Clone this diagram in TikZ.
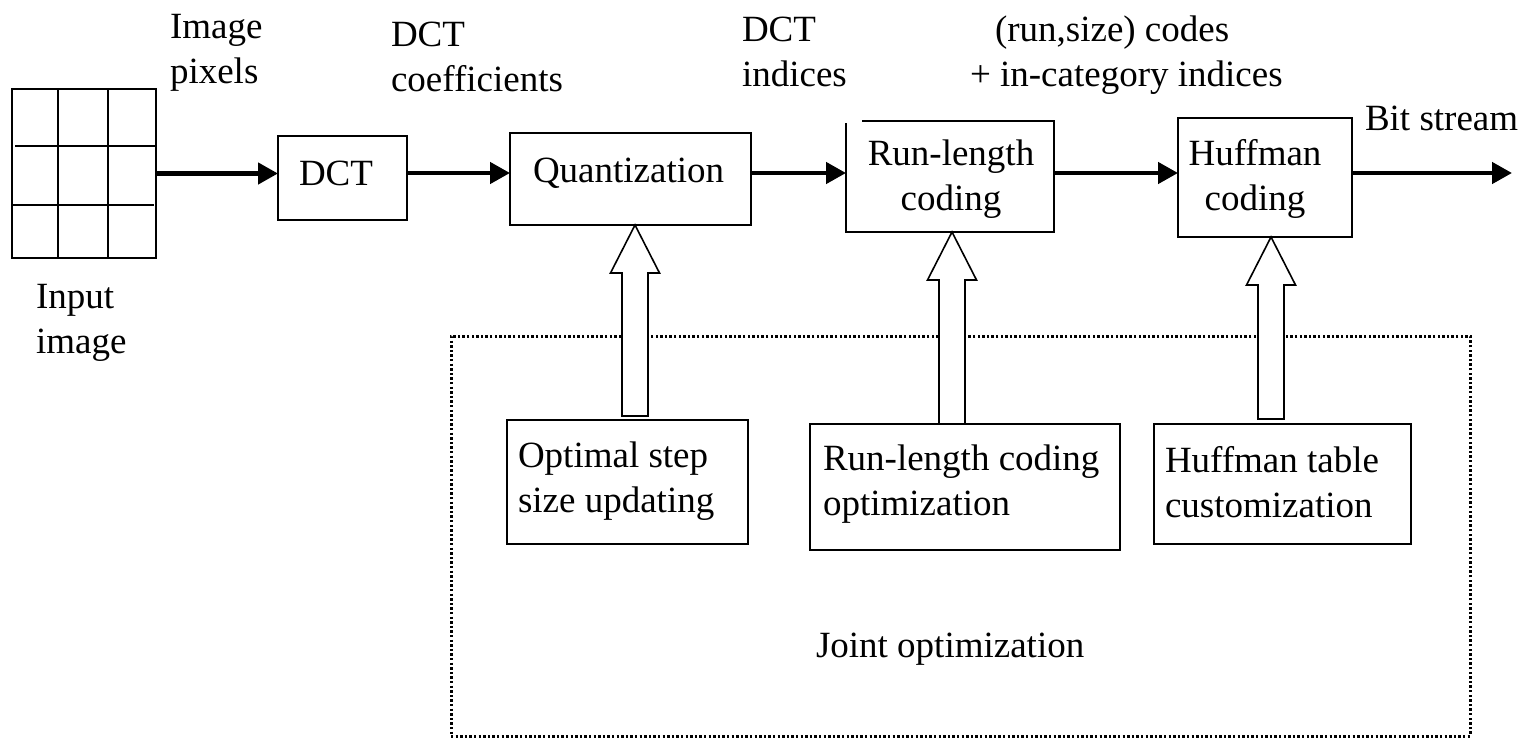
\documentclass[tikz,border=0pt]{standalone}
\usepackage{fontspec}
\setmainfont{Liberation Serif}
\usetikzlibrary{arrows.meta,calc}
\newcommand\hollowup[2]{%
  \draw[hollow] ($(#2)+(-13,0)$) -- ($(#1)+(-13,48)$) -- ($(#1)+(-24.5,48)$) -- (#1)
    -- ($(#1)+(24.5,48)$) -- ($(#1)+(13,48)$) -- ($(#2)+(13,0)$) -- cycle;}
\begin{document}
\begin{tikzpicture}[x=1pt,y=-1pt,
  boxline/.style={line width=1.8pt},
  box/.style={draw, boxline, inner sep=0pt, outer sep=0pt},
  txt/.style={font=\fontsize{37}{45}\selectfont, inner sep=0pt, outer sep=0pt},
  lbl/.style={txt, anchor=base west, align=left},
  flow/.style={line width=4.5pt, -{Triangle[length=20pt,width=21pt]}},
  hollow/.style={draw, line width=1.6pt, fill=white, line join=miter},
  dotline/.style={draw, line width=3pt, dash pattern=on 2.4pt off 2.2pt, inner sep=0pt, outer sep=0pt},
  gridline/.style={line width=1.6pt}]
\useasboundingbox (0,0) rectangle (1530,739);

% input image grid
\node[box, minimum width=144pt, minimum height=169pt] (grid) at (84,173.5) {};
\draw[gridline] (58,89) -- (58,258) (108,89) -- (108,258) (15,146) -- (156,146) (12,205) -- (154,205);
\node[lbl] (inT) at (36,353) {Input\\image};

% top row boxes
\node[box, minimum width=129pt, minimum height=84pt] (dct) at (342.5,178) {};
\node[lbl] (dctT) at (299,185) {DCT};
\node[box, minimum width=241pt, minimum height=92pt] (quant) at (630.5,179) {};
\node[lbl] (quantT) at (533,182) {Quantization};
\node[minimum width=208pt, minimum height=111pt, inner sep=0pt, outer sep=0pt] (rl) at (950,176.5) {};
\draw[boxline] ([yshift=-2pt]rl.north west) -- (rl.south west) -- (rl.south east) -- (rl.north east) -- ([xshift=16pt]rl.north west);
\node[txt, anchor=base, align=center] (rlT) at (951,210) {Run-length\\coding};
\node[box, minimum width=174pt, minimum height=119pt] (huf) at (1265,177.5) {};
\node[txt, anchor=base, align=center] (hufT) at (1255,210) {Huffman\\coding};

% top labels
\node[lbl] (pixT) at (170,83) {Image\\pixels};
\node[lbl] (coefT) at (391,91) {DCT\\coefficients};
\node[lbl] (idxT) at (742,86) {DCT\\indices};
\node[lbl] (codeT) at (970,86) {\hspace*{25pt}(run,size) codes\\+ in-category indices};
\node[lbl] (bitT) at (1365,130) {Bit stream};

% flow arrows
\coordinate (row) at (0,173);
\coordinate (out) at (1512,173);
\draw[flow] (grid.east) -- (grid.east -| dct.west);
\draw[flow] (dct.east |- row) -- (quant.west |- row);
\draw[flow] (quant.east |- row) -- (rl.west |- row);
\draw[flow] (rl.east |- row) -- (huf.west |- row);
\draw[flow] (huf.east |- row) -- (out);

% joint optimization area
\node[dotline, minimum width=1019pt, minimum height=400pt] (joint) at (960.5,536) {};
\node[lbl] (jointT) at (816,657) {Joint optimization};

\node[box, minimum width=241pt, minimum height=124pt] (opt) at (627.5,482) {};
\node[lbl] (optT) at (518,512) {Optimal step\\size updating};
\node[box, minimum width=310pt, minimum height=126pt] (rlo) at (965,487) {};
\node[lbl] (rloT) at (823,515) {Run-length coding\\optimization};
\node[box, minimum width=257pt, minimum height=120pt] (hto) at (1282.5,484) {};
\node[lbl] (htoT) at (1165,517) {Huffman table\\customization};

% hollow arrows
\coordinate (qa) at (635,0);
\coordinate (ra) at (952,0);
\coordinate (ha) at (1271,0);
\coordinate (qtip) at (qa |- quant.south);
\coordinate (qbot) at ($(qa |- opt.north)+(0,-4)$);
\coordinate (rtip) at (ra |- rl.south);
\coordinate (rbot) at (ra |- rlo.north);
\coordinate (htip) at (ha |- huf.south);
\coordinate (hbot) at ($(ha |- hto.north)+(0,-5)$);
\hollowup{qtip}{qbot}
\hollowup{rtip}{rbot}
\hollowup{htip}{hbot}
\end{tikzpicture}
\end{document}
